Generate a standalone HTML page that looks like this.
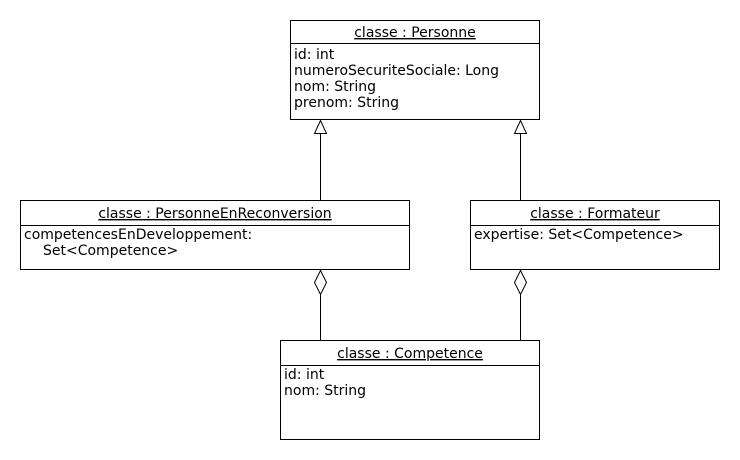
<!DOCTYPE html>
<html><head><meta charset="utf-8"><style>
html,body{margin:0;padding:0;background:#fff;}
svg{display:block;}
text{font-family:"DejaVu Sans","Liberation Sans",sans-serif;font-size:14px;fill:#000;}
</style></head><body>
<svg width="740" height="460" viewBox="0 0 740 460" xmlns="http://www.w3.org/2000/svg">
<rect width="740" height="460" fill="#fff"/>
<g fill="#fff" stroke="#000" stroke-width="1">
  <rect x="290.5" y="20.5" width="249" height="99"/>
  <line x1="290.5" y1="43.5" x2="539.5" y2="43.5"/>
  <rect x="20.5" y="200.5" width="389" height="69"/>
  <line x1="20.5" y1="225.5" x2="409.5" y2="225.5"/>
  <rect x="470.5" y="200.5" width="249" height="69"/>
  <line x1="470.5" y1="225.5" x2="719.5" y2="225.5"/>
  <rect x="280.5" y="340.5" width="259" height="99"/>
  <line x1="280.5" y1="365.5" x2="539.5" y2="365.5"/>
  <line x1="320.5" y1="133" x2="320.5" y2="200"/>
  <polygon points="320.5,120.5 314.5,133.5 326.5,133.5"/>
  <line x1="520.5" y1="133" x2="520.5" y2="200"/>
  <polygon points="520.5,120.5 514.5,133.5 526.5,133.5"/>
  <line x1="320.5" y1="294" x2="320.5" y2="340"/>
  <polygon points="320.5,270.5 326.5,282.5 320.5,294.5 314.5,282.5"/>
  <line x1="520.5" y1="294" x2="520.5" y2="340"/>
  <polygon points="520.5,270.5 526.5,282.5 520.5,294.5 514.5,282.5"/>
</g>
<g text-anchor="middle">
  <text x="415" y="37" text-decoration="underline">classe : Personne</text>
  <text x="215" y="218" text-decoration="underline">classe : PersonneEnReconversion</text>
  <text x="595" y="218" text-decoration="underline">classe : Formateur</text>
  <text x="410" y="358" text-decoration="underline">classe : Competence</text>
</g>
<text x="294" y="59">id: int</text>
<text x="294" y="75">numeroSecuriteSociale: Long</text>
<text x="294" y="91">nom: String</text>
<text x="294" y="107">prenom: String</text>
<text x="24" y="239">competencesEnDeveloppement:</text>
<text x="43" y="255">Set&lt;Competence&gt;</text>
<text x="474" y="239">expertise: Set&lt;Competence&gt;</text>
<text x="284" y="379">id: int</text>
<text x="284" y="395">nom: String</text>
</svg>
</body></html>
